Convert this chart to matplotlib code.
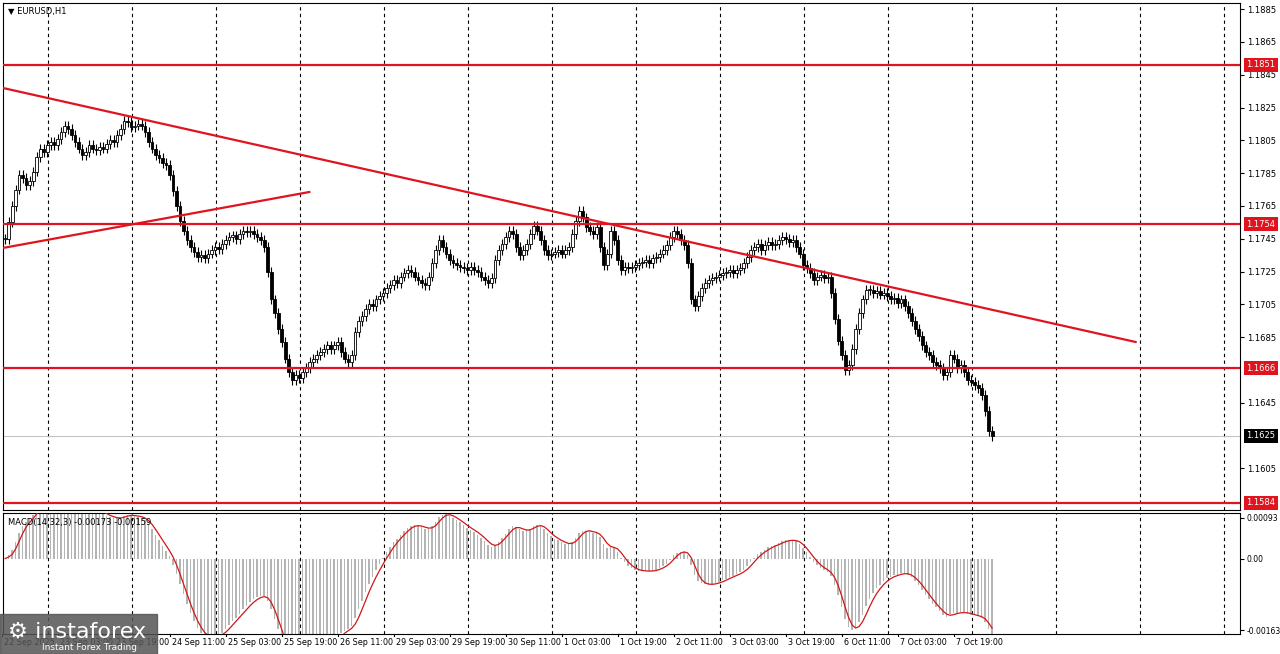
import numpy as np
import pandas as pd
import matplotlib
matplotlib.use("Agg")
import matplotlib.pyplot as plt

# EURUSD H1 closes, in pips above 1.1600
closes_pips = [
    145, 155, 165, 175, 184, 182, 178, 180, 186, 195,
    200, 198, 202, 204, 202, 206, 210, 214, 212, 208,
    204, 200, 196, 198, 202, 200, 199, 201, 200, 203,
    205, 204, 208, 212, 217, 216, 213, 214, 215, 214,
    210, 204, 200, 196, 194, 191, 190, 184, 174, 165,
    156, 150, 144, 140, 137, 134, 135, 133, 136, 138,
    140, 139, 142, 144, 146, 147, 145, 148, 150, 149,
    150, 148, 146, 144, 140, 125, 108, 100, 90, 82,
    72, 64, 59, 62, 60, 64, 66, 70, 72, 74,
    76, 78, 80, 78, 80, 82, 76, 72, 70, 74,
    88, 95, 98, 102, 105, 104, 108, 110, 112, 115,
    117, 120, 118, 122, 124, 126, 125, 122, 120, 118,
    117, 122, 130, 138, 144, 140, 136, 132, 130, 129,
    128, 127, 126, 128, 126, 125, 122, 120, 118, 121,
    132, 138, 142, 146, 150, 148, 140, 135, 138, 142,
    148, 153, 150, 144, 138, 135, 136, 137, 138, 136,
    138, 140, 148, 156, 162, 158, 152, 150, 148, 152,
    140, 129, 136, 150, 144, 132, 126, 128, 127, 128,
    129, 130, 131, 132, 130, 133, 134, 136, 138, 141,
    146, 150, 148, 144, 141, 130, 108, 104, 110, 115,
    118, 120, 121, 122, 123, 124, 125, 126, 124, 126,
    127, 130, 134, 138, 140, 142, 138, 141, 143, 141,
    142, 144, 146, 145, 143, 144, 140, 136, 129, 127,
    124, 120, 122, 123, 121, 122, 112, 96, 83, 74,
    65, 68, 78, 90, 100, 108, 114, 114, 112, 113,
    111, 112, 110, 108, 109, 106, 108, 104, 100, 95,
    90, 86, 80, 76, 74, 70, 68, 66, 62, 64,
    74, 72, 66, 68, 64, 59, 58, 56, 54, 50,
    40, 28, 25,
]
levels = [1.1851, 1.1754, 1.1666, 1.1584]
bid = 1.1625
price_ticks = [1.1885, 1.1865, 1.1845, 1.1825, 1.1805, 1.1785, 1.1765, 1.1745,
               1.1725, 1.1705, 1.1685, 1.1645, 1.1605]
time_labels = ["22 Sep 2025", "23 Sep 03:00", "23 Sep 19:00", "24 Sep 11:00", "25 Sep 03:00",
               "25 Sep 19:00", "26 Sep 11:00", "29 Sep 03:00", "29 Sep 19:00", "30 Sep 11:00",
               "1 Oct 03:00", "1 Oct 19:00", "2 Oct 11:00", "3 Oct 03:00", "3 Oct 19:00",
               "6 Oct 11:00", "7 Oct 03:00", "7 Oct 19:00"]
time_label_bars = [-1, 15, 31, 47, 63, 79, 95, 111, 127, 143, 159, 175, 191, 207, 223, 239, 255, 271]
# trend lines (bar, price)
down_line = ([-0.6, 323.0], [1.18369, 1.16821])
up_line = ([-0.6, 86.9], [1.17394, 1.17735])

close = 1.16 + np.array(closes_pips) / 10000
open_ = np.r_[close[0], close[:-1]]
n = len(close)
idx = np.arange(n)
hi = np.maximum(open_, close) + 0.0003
lo = np.minimum(open_, close) - 0.0003

s = pd.Series(close)
macd = s.ewm(span=14, adjust=False).mean() - s.ewm(span=32, adjust=False).mean()
signal = macd.rolling(3, min_periods=1).mean()

W, H = 1280, 654
fig = plt.figure(figsize=(12.8, 6.54), dpi=100)
ax = fig.add_axes([3 / W, (H - 510) / H, 1237 / W, 507 / H])
axm = fig.add_axes([3 / W, 20 / H, 1237 / W, 121 / H])

xl = (-0.6, -0.6 + 1237 / 3.5)
for a in (ax, axm):
    a.set_xlim(*xl)
    for gx in np.arange(12.3, xl[1], 24):
        a.axvline(gx, color="black", ls=(0, (3, 3)), lw=0.8, zorder=0)
    a.set_xticks([])
    a.yaxis.tick_right()
    a.tick_params(axis="y", labelsize=6, length=3, pad=2)
    for sp in a.spines.values():
        sp.set_linewidth(0.8)

# candles
up = close >= open_
ax.vlines(idx, lo, hi, color="black", lw=0.8, zorder=2)
body_lo = np.minimum(open_, close)
body_h = np.maximum(np.abs(close - open_), 0.00003)
ax.bar(idx[up], body_h[up], bottom=body_lo[up], width=0.8, color="white", edgecolor="black", lw=0.6, zorder=3)
ax.bar(idx[~up], body_h[~up], bottom=body_lo[~up], width=0.8, color="black", edgecolor="black", lw=0.6, zorder=3)

for lv in levels:
    ax.axhline(lv, color="#e0141e", lw=1.6, zorder=4)
ax.axhline(bid, color="#c0c0c0", lw=0.7, zorder=1)
ax.plot(*down_line, color="#e0141e", lw=1.6, zorder=4)
ax.plot(*up_line, color="#e0141e", lw=1.6, zorder=4)

ax.set_ylim(1.15797, 1.18887)
ax.set_yticks(price_ticks)
ax.set_yticklabels([f"{v:.4f}" for v in price_ticks])
for lv in levels:
    ax.text(1.005, lv, f"{lv:.4f}", transform=ax.get_yaxis_transform(), fontsize=6, color="white",
            va="center", ha="left", bbox=dict(boxstyle="square,pad=0.3", fc="#e0141e", ec="none"), clip_on=False)
ax.text(1.005, bid, f"{bid:.4f}", transform=ax.get_yaxis_transform(), fontsize=6, color="white",
        va="center", ha="left", bbox=dict(boxstyle="square,pad=0.3", fc="black", ec="none"), clip_on=False)
ax.text(0.004, 0.993, "\u25bc EURUSD,H1", transform=ax.transAxes, fontsize=6, va="top")

# MACD
axm.bar(idx, macd, width=0.4, color="#b4b4b4", zorder=2)
axm.plot(idx, signal, color="#d01818", lw=0.9, zorder=3)
axm.set_ylim(-0.00172, 0.00104)
axm.set_yticks([0.00093, 0.0, -0.00163])
axm.set_yticklabels(["0.00093", "0.00", "-0.00163"], fontsize=5.5)
axm.text(0.004, 0.96, f"MACD(14,32,3) {macd.iloc[-1]:.5f} {signal.iloc[-1]:.5f}", transform=axm.transAxes,
         fontsize=6, va="top")
for b, lab in zip(time_label_bars, time_labels):
    axm.text(b + 0.8, -0.0018, lab, fontsize=5.8, ha="left", va="top", clip_on=False)
    axm.plot([b, b], [-0.00172, -0.00176], color="black", lw=0.8, clip_on=False)

# logo
fig.patches.append(plt.Rectangle((0, 0), 157 / W, 40 / H, transform=fig.transFigure, color="#555555", alpha=0.85, zorder=10))
fig.text(8 / W, 22 / H, "\u2699 instaforex", color="white", fontsize=16, va="center", zorder=11)
fig.text(42 / W, 6 / H, "Instant Forex Trading", color="white", fontsize=6.5, va="center", zorder=11)

fig.savefig("out.png", dpi=100, facecolor="white")
